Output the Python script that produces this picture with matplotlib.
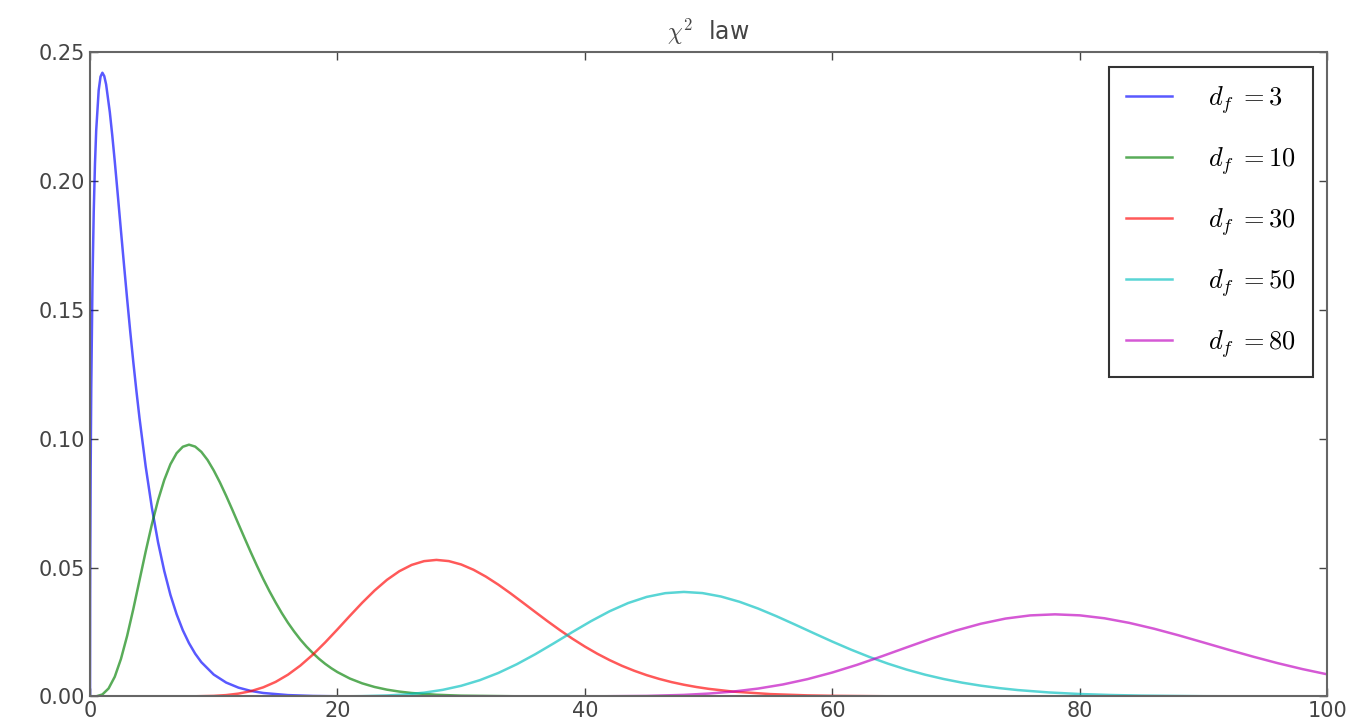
import matplotlib
matplotlib.use("Agg")
import matplotlib.pyplot as plt

plt.rcParams['mathtext.fontset'] = 'cm'
plt.rcParams['font.family'] = ['DejaVu Sans']

# chi-square densities
x_df3 = [0, 0.01, 0.02, 0.05, 0.1, 0.2, 0.3, 0.4, 0.5, 0.7, 0.85, 1.0, 1.15, 1.3, 1.6, 1.8, 2.0,
         2.25, 2.5, 2.75, 3.0, 3.25, 3.5, 3.75, 4, 4.5, 5, 5.5, 6, 6.5, 7, 7.5, 8, 8.5, 9, 10,
         11, 12, 13, 14, 16, 18, 20, 25, 30, 40, 60, 80, 100]
y_df3 = [0, 0.0397, 0.0559, 0.0870, 0.1200, 0.1614, 0.1881, 0.2066, 0.2197, 0.2352, 0.2405,
         0.2420, 0.2407, 0.2375, 0.2267, 0.2176, 0.2076, 0.1943, 0.1807, 0.1673, 0.1542,
         0.1416, 0.1297, 0.1185, 0.1080, 0.0892, 0.0732, 0.0598, 0.0487, 0.0394, 0.0319,
         0.0257, 0.0207, 0.0166, 0.0133, 0.0085, 0.00541, 0.00343, 0.00216, 0.00136,
         0.00054, 0.00021, 0.00008, 0.000007, 0, 0, 0, 0, 0]

x_df10 = [0, 0.5, 1, 1.5, 2, 2.5, 3, 3.5, 4, 4.5, 5, 5.5, 6, 6.5, 7, 7.5, 8, 8.5, 9, 9.5, 10,
          10.5, 11, 11.5, 12, 12.5, 13, 13.5, 14, 14.5, 15, 15.5, 16, 16.5, 17, 17.5, 18, 18.5,
          19, 19.5, 20, 21, 22, 23, 24, 25, 26, 28, 30, 35, 40, 50, 60, 80, 100]
y_df10 = [0, 0.00006, 0.00079, 0.00311, 0.00766, 0.01457, 0.02353, 0.03395, 0.04511, 0.05628,
          0.0668, 0.07617, 0.0840, 0.09012, 0.0944, 0.09689, 0.0977, 0.09695, 0.0949, 0.09176,
          0.0877, 0.08305, 0.0779, 0.07248, 0.0669, 0.06137, 0.0559, 0.05064, 0.0456, 0.04088,
          0.0365, 0.03237, 0.0286, 0.02521, 0.0221, 0.01935, 0.0169, 0.01466, 0.0127, 0.01098,
          0.00946, 0.00697, 0.0051, 0.00369, 0.00265, 0.0019, 0.00135, 0.00067, 0.00032,
          0.00005, 0.000007, 0, 0, 0, 0]

x_df30 = [0, 5, 8, 10, 11, 12, 13, 14, 15, 16, 17, 18, 19, 20, 21, 22, 23, 24, 25, 26, 27, 28,
          29, 30, 31, 32, 33, 34, 35, 36, 37, 38, 39, 40, 41, 42, 43, 44, 45, 46, 47, 48, 49,
          50, 52, 55, 58, 60, 65, 70, 80, 100]
y_df30 = [0, 0.0000002, 0.000028, 0.00024, 0.00054, 0.00112, 0.00207, 0.00355, 0.00565,
          0.00846, 0.01199, 0.01619, 0.02094, 0.02604, 0.03127, 0.03637, 0.04111, 0.04525,
          0.04860, 0.05105, 0.05251, 0.05299, 0.05253, 0.05122, 0.04916, 0.04650, 0.04340,
          0.03998, 0.03638, 0.03274, 0.02914, 0.02568, 0.02240, 0.01937, 0.01660, 0.01411,
          0.01189, 0.00996, 0.00827, 0.00683, 0.00559, 0.00456, 0.00369, 0.00297, 0.00189,
          0.00093, 0.00043, 0.00026, 0.000065, 0.000015, 0.0000007, 0]

x_df50 = [0, 10, 15, 20, 22, 24, 25.5, 27, 28.5, 30, 31.5, 33, 34.5, 36, 37.5, 39, 40.5, 42,
          43.5, 45, 46.5, 48, 49.5, 51, 52.5, 54, 55.5, 57, 58.5, 60, 61.5, 63, 64.5, 66, 67.5,
          69, 70.5, 72, 73.5, 75, 77.5, 80, 82.5, 85, 90, 100]
y_df50 = [0, 0, 0.0000005, 0.0000365, 0.000133, 0.00039, 0.00080, 0.00148, 0.00257, 0.00415,
          0.00632, 0.00912, 0.01252, 0.01643, 0.02067, 0.02503, 0.02924, 0.03307, 0.03626,
          0.03864, 0.04009, 0.04057, 0.04012, 0.03879, 0.03674, 0.03412, 0.03111, 0.02787,
          0.02456, 0.02130, 0.01820, 0.01533, 0.01274, 0.01044, 0.00846, 0.00678, 0.00536,
          0.00420, 0.00325, 0.00249, 0.00157, 0.00096, 0.00058, 0.00034, 0.00011, 0.0000093]

x_df80 = [0, 20, 30, 40, 45, 48, 50, 52, 54, 56, 58, 60, 62, 64, 66, 68, 70, 72, 74, 76, 78,
          80, 82, 84, 86, 88, 90, 92, 94, 96, 98, 100]
y_df80 = [0, 0, 0.00000006, 0.0000277, 0.000225, 0.00062, 0.00113, 0.00191, 0.00307, 0.00466,
          0.00674, 0.00930, 0.01228, 0.01559, 0.01904, 0.02244, 0.02558, 0.02822, 0.03023,
          0.03146, 0.03187, 0.03148, 0.03034, 0.02856, 0.02630, 0.02372, 0.02096, 0.01817,
          0.01547, 0.01293, 0.01063, 0.00860]

series = [
    (x_df3, y_df3, r'$d_f\;{=}3$', 'b'),
    (x_df10, y_df10, r'$d_f\;{=}10$', 'g'),
    (x_df30, y_df30, r'$d_f\;{=}30$', 'r'),
    (x_df50, y_df50, r'$d_f\;{=}50$', 'c'),
    (x_df80, y_df80, r'$d_f\;{=}80$', 'm'),
]

fig = plt.figure(figsize=(13.64, 7.24), dpi=100)
ax = fig.add_axes([0.066, 0.038, 0.907, 0.89])
for xs, ys, lab, col in series:
    ax.plot(xs, ys, color=col, alpha=0.65, lw=1.8, label=lab)

ax.set_xlim(0, 100)
ax.set_ylim(0, 0.25)
ax.set_xticks([0, 20, 40, 60, 80, 100])
ax.set_yticks([0.0, 0.05, 0.10, 0.15, 0.20, 0.25])
ax.set_yticklabels(['0.00', '0.05', '0.10', '0.15', '0.20', '0.25'])
ax.tick_params(direction='in', top=True, right=True, labelsize=15, colors='#444444',
               length=6, width=1)
for sp in ax.spines.values():
    sp.set_color('#666666')
    sp.set_linewidth(1.5)
ax.set_title(r'$\chi^2$  law', fontsize=17, color='#444444', pad=9)

leg = ax.legend(loc='upper right', fontsize=19, fancybox=False, labelspacing=1.1,
                handlelength=1.75, handletextpad=1.35, borderpad=0.65, framealpha=1,
                borderaxespad=0.55)
leg.get_frame().set_edgecolor('#333333')
leg.get_frame().set_linewidth(1.5)

fig.savefig('out.png', dpi=100)
